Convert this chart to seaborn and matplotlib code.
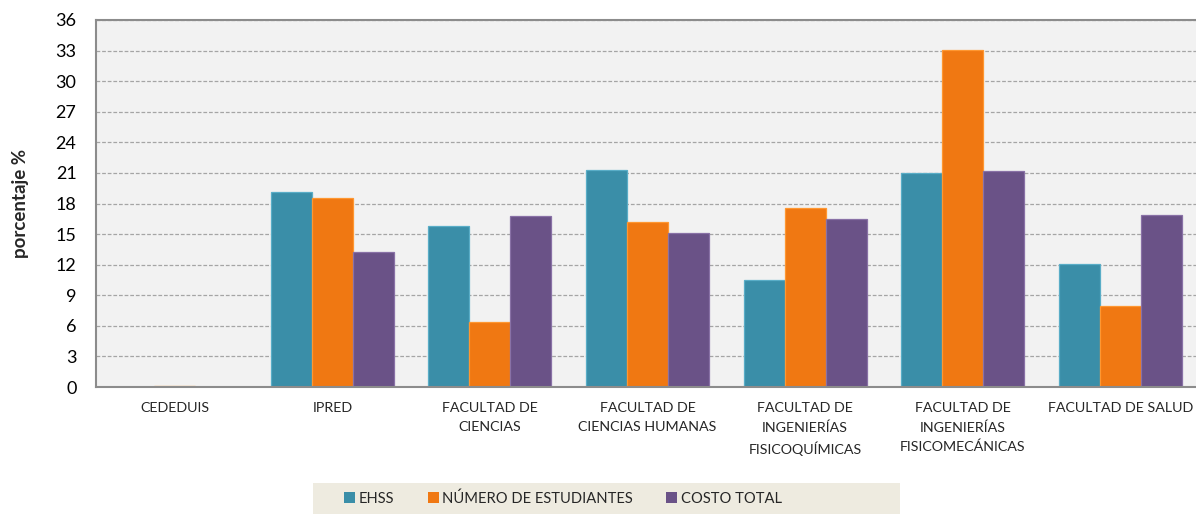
import matplotlib
matplotlib.use("Agg")
import matplotlib.pyplot as plt
from matplotlib.patches import Rectangle, Patch
import seaborn as sns
import pandas as pd

categories = ["CEDEDUIS", "IPRED", "FACULTAD DE\nCIENCIAS", "FACULTAD DE\nCIENCIAS HUMANAS",
              "FACULTAD DE\nINGENIERÍAS\nFISICOQUÍMICAS", "FACULTAD DE\nINGENIERÍAS\nFISICOMECÁNICAS",
              "FACULTAD DE SALUD"]
series = ["EHSS", "NÚMERO DE ESTUDIANTES", "COSTO TOTAL"]
ehss = [0.0, 19.1, 15.8, 21.3, 10.5, 21.0, 12.1]
estudiantes = [0.05, 18.55, 6.4, 16.2, 17.6, 33.1, 7.9]
costo = [0.0, 13.25, 16.8, 15.1, 16.5, 21.2, 16.9]
yticks = list(range(0, 37, 3))
colors = ["#3A8EA8", "#F07812", "#6A5287"]

rows = []
for s, vals in zip(series, [ehss, estudiantes, costo]):
    for c, v in zip(categories, vals):
        rows.append({"cat": c, "serie": s, "valor": v})
df = pd.DataFrame(rows)

sns.set_theme(style="white")
plt.rcParams['font.family'] = ['Lato', 'DejaVu Sans']

fig = plt.figure(figsize=(11.96, 5.14), dpi=100)
ax = fig.add_axes([96/1196, 1-387/514, 1103/1196, 367/514])
ax.set_facecolor("#F2F2F2")

sns.barplot(data=df, x="cat", y="valor", hue="serie", order=categories, hue_order=series,
            palette=colors, width=0.78, gap=0, ax=ax, legend=False, saturation=1)

for p in ax.patches:
    fc = p.get_facecolor()
    light = tuple(min(1, c + 0.12) for c in fc[:3])
    p.set_edgecolor(light)
    p.set_linewidth(0.9)

ax.set_xlim(-0.5, 6.5)
ax.set_ylim(0, 36)
ax.set_yticks(yticks)
ax.set_yticklabels([str(t) for t in yticks], fontsize=13, color="#000000")
ax.tick_params(axis="y", length=0, pad=14)
ax.tick_params(axis="x", length=0, pad=11, labelsize=10.3)
for lbl in ax.get_xticklabels():
    lbl.set_linespacing(1.65)
ax.yaxis.grid(True, linestyle=(0, (3, 1.5)), color="#A5A5A5", linewidth=0.9)
ax.set_axisbelow(True)
ax.set_xlabel("")
ax.set_ylabel("porcentaje %", fontsize=13.5, fontweight="bold", labelpad=19)
for side in ["left", "top", "bottom"]:
    ax.spines[side].set_color("#8C8C8C")
    ax.spines[side].set_linewidth(1.5)
ax.spines["right"].set_visible(False)

fig.patches.append(Rectangle((313/1196, 0), 587/1196, 31/514, transform=fig.transFigure,
                             facecolor="#EEEBE0", edgecolor="none", zorder=0))
handles = [Patch(facecolor=c, edgecolor="none") for c in colors]
fig.legend(handles, series, loc="center", bbox_to_anchor=(563/1196, 15.5/514), ncol=3,
           frameon=False, fontsize=10.6, handlelength=0.75, handleheight=0.75,
           handletextpad=0.25, columnspacing=2.25)

fig.savefig("out.png", dpi=100)
